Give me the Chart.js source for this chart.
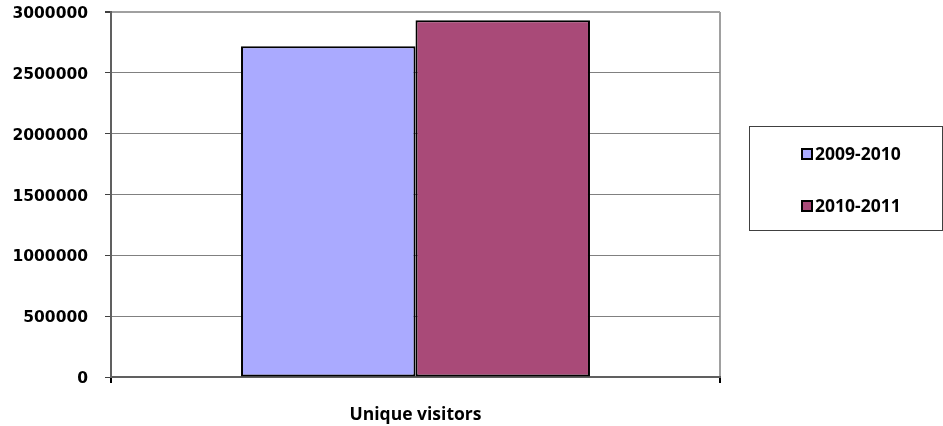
<!DOCTYPE html>
<html>
<head>
<meta charset="utf-8">
<script src="https://cdn.jsdelivr.net/npm/chart.js@4/dist/chart.umd.min.js"></script>
<style>
  html, body { margin: 0; padding: 0; background: #fff; }
  #wrap { width: 943px; height: 426px; }
</style>
</head>
<body>
<div id="wrap"><canvas id="myChart" width="943" height="426"></canvas></div>
<script>
const categories = ["Unique visitors"];
const seasons = ["2009-2010", "2010-2011"];
const visitors0910 = [2718000];
const visitors1011 = [2932000];
const yTicks = [0, 500000, 1000000, 1500000, 2000000, 2500000, 3000000];

const ctx = document.getElementById("myChart").getContext("2d");

// boxed legend on the right side, drawn from the datasets
const boxLegend = {
  id: "boxLegend",
  afterDraw(chart) {
    const c = chart.ctx;
    c.save();
    c.strokeStyle = "#404040";
    c.lineWidth = 1;
    c.strokeRect(749.5, 126.5, 193, 104);
    c.font = "bold 17.5px 'Open Sans'";
    c.textBaseline = "middle";
    chart.data.datasets.forEach((ds, i) => {
      const y = 154 + i * 52;
      c.fillStyle = ds.backgroundColor;
      c.fillRect(802, y - 5, 10, 10);
      c.strokeStyle = "#000";
      c.lineWidth = 2;
      c.strokeRect(802, y - 5, 10, 10);
      c.fillStyle = "#000";
      c.fillText(ds.label, 815, y + 1);
    });
    c.restore();
  },
};

const myChart = new Chart(ctx, {
  type: "bar",
  data: {
    labels: categories,
    datasets: [
      {
        label: seasons[0],
        data: visitors0910,
        backgroundColor: "#aaaaff",
        borderColor: "#000",
        borderWidth: 2,
        borderSkipped: false,
        categoryPercentage: 0.573,
        barPercentage: 1,
      },
      {
        label: seasons[1],
        data: visitors1011,
        backgroundColor: "#a94a78",
        borderColor: "#000",
        borderWidth: 2,
        borderSkipped: false,
        categoryPercentage: 0.573,
        barPercentage: 1,
      },
    ],
  },
  options: {
    responsive: false,
    animation: false,
    layout: { padding: { top: 0, right: 223, left: 0, bottom: 0 } },
    plugins: {
      legend: { display: false },
      tooltip: { enabled: false },
    },
    scales: {
      x: {
        grid: {
          offset: true,
          color: "#a0a0a0",
          lineWidth: 2,
          tickColor: "#000",
          tickLength: 6,
        },
        border: { color: "#606060", width: 2 },
        ticks: {
          color: "#000",
          padding: 22,
          font: { family: "'Open Sans'", weight: "bold", size: 17.5 },
        },
        afterFit(scale) {
          scale.height = 49;
        },
      },
      y: {
        min: 0,
        max: 3000000,
        afterBuildTicks(scale) {
          scale.ticks = yTicks.map((v) => ({ value: v }));
        },
        grid: {
          color: (c) => (c.tick && c.tick.value === 3000000 ? "#a0a0a0" : "#808080"),
          lineWidth: (c) => (c.tick && c.tick.value === 3000000 ? 2 : 1),
          tickColor: "#404040",
          tickLength: 6,
        },
        border: { color: "#606060", width: 2 },
        ticks: {
          color: "#000",
          padding: 17,
          labelOffset: 2,
          font: { family: "'DejaVu Sans'", weight: "bold", size: 15.5 },
          callback: (v) => String(v),
        },
        afterFit(scale) {
          scale.width = 111;
          scale.paddingTop = 12;
          scale.paddingBottom = 0;
        },
      },
    },
  },
  plugins: [boxLegend],
});
</script>
</body>
</html>
